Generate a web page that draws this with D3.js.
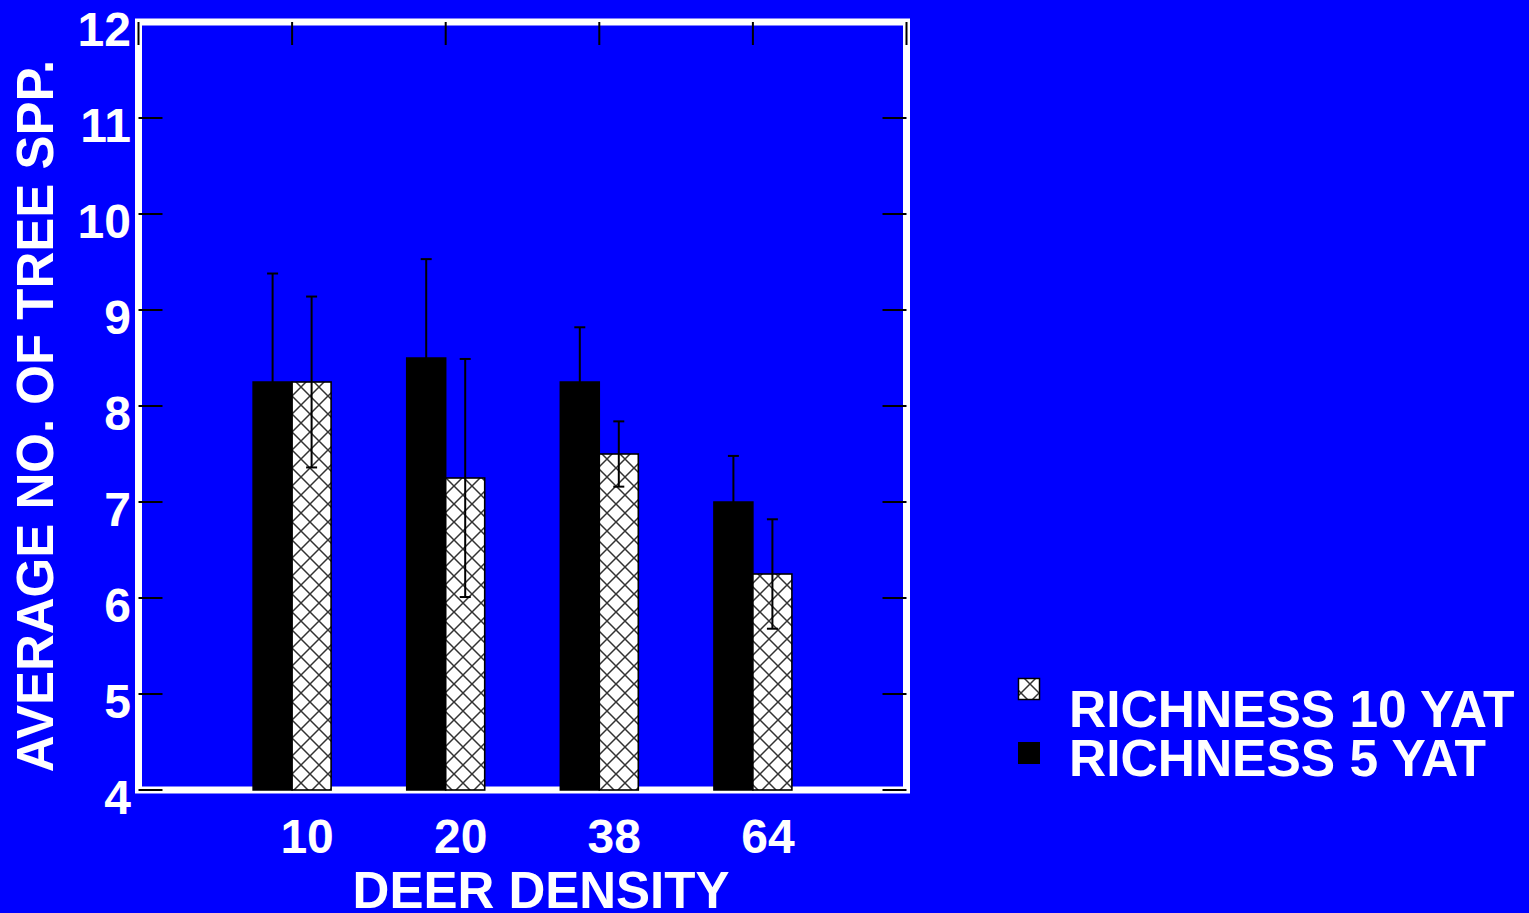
<!DOCTYPE html>
<html>
<head>
<meta charset="utf-8">
<script src="https://cdn.jsdelivr.net/npm/d3@7"></script>
<style>
  html, body { margin: 0; padding: 0; background: #0000ff; }
  svg { display: block; }
  text { font-family: "Liberation Sans", Arial, Helvetica, sans-serif; font-weight: bold; fill: #ffffff; }
</style>
</head>
<body>
<svg id="chart" width="1529" height="913"></svg>
<script>
// Deer density treatments
const categories = ["10", "20", "38", "64"];
// Richness 5 years after treatment (solid bars) with upper error
const rich5 = [8.25, 8.5, 8.25, 7.0];
const rich5Err = [1.13, 1.03, 0.57, 0.48];
// Richness 10 years after treatment (hatched bars) with +/- error
const rich10 = [8.25, 7.25, 7.5, 6.25];
const rich10Err = [0.89, 1.24, 0.34, 0.57];
// Y axis tick values
const yTicks = [4, 5, 6, 7, 8, 9, 10, 11, 12];
const legendLabels = ["RICHNESS 10 YAT", "RICHNESS 5 YAT"];

const svg = d3.select("#chart");
svg.append("rect").attr("width", 1529).attr("height", 913).attr("fill", "#0000ff");

const plotL = 138.5, plotR = 906.5, plotT = 22, plotB = 790;
const x = d3.scalePoint().domain(categories).range([plotL, plotR]).padding(1);
const y = d3.scaleLinear().domain([4, 12]).range([plotB, plotT]);
const barW = 39;

// Crosshatch fill
const defs = svg.append("defs");
const pat = defs.append("pattern")
  .attr("id", "hatch").attr("patternUnits", "userSpaceOnUse")
  .attr("width", 18).attr("height", 18).attr("x", 292).attr("y", 0);
pat.append("rect").attr("width", 18).attr("height", 18).attr("fill", "#ffffff");
pat.append("path").attr("d", "M0,0L18,18M18,0L0,18")
  .attr("stroke", "#333333").attr("stroke-width", 1.5);

// White plot frame
svg.append("rect")
  .attr("x", plotL).attr("y", plotT)
  .attr("width", plotR - plotL).attr("height", plotB - plotT)
  .attr("fill", "none").attr("stroke", "#ffffff").attr("stroke-width", 7);

// Bars
const g = svg.append("g");
g.selectAll("rect.r5").data(categories).join("rect")
  .attr("class", "r5")
  .attr("x", d => x(d) - barW)
  .attr("y", (d, i) => y(rich5[i]))
  .attr("width", barW)
  .attr("height", (d, i) => y(4) - y(rich5[i]))
  .attr("fill", "#000000").attr("stroke", "#000000").attr("stroke-width", 1.5);

g.selectAll("rect.r10").data(categories).join("rect")
  .attr("class", "r10")
  .attr("x", d => x(d))
  .attr("y", (d, i) => y(rich10[i]))
  .attr("width", barW)
  .attr("height", (d, i) => y(4) - y(rich10[i]))
  .attr("fill", "url(#hatch)").attr("stroke", "#000000").attr("stroke-width", 1.6);

// Error bars
const cap = 5.5;
const eb = svg.append("g").attr("stroke", "#000000").attr("stroke-width", 2);
categories.forEach((c, i) => {
  const cx5 = x(c) - barW / 2;
  const top5 = y(rich5[i] + rich5Err[i]);
  eb.append("line").attr("x1", cx5).attr("x2", cx5).attr("y1", y(rich5[i])).attr("y2", top5);
  eb.append("line").attr("x1", cx5 - cap).attr("x2", cx5 + cap).attr("y1", top5).attr("y2", top5);

  const cx10 = x(c) + barW / 2;
  const hi = y(rich10[i] + rich10Err[i]);
  const lo = y(rich10[i] - rich10Err[i]);
  eb.append("line").attr("x1", cx10).attr("x2", cx10).attr("y1", lo).attr("y2", hi);
  eb.append("line").attr("x1", cx10 - cap).attr("x2", cx10 + cap).attr("y1", hi).attr("y2", hi);
  eb.append("line").attr("x1", cx10 - cap).attr("x2", cx10 + cap).attr("y1", lo).attr("y2", lo);
});

// Black tick marks on the frame
const ticks = svg.append("g").attr("stroke", "#000000").attr("stroke-width", 2);
yTicks.filter(v => v < 12).forEach(v => {
  ticks.append("line").attr("x1", plotL).attr("x2", plotL + 24).attr("y1", y(v)).attr("y2", y(v));
  ticks.append("line").attr("x1", plotR - 24).attr("x2", plotR).attr("y1", y(v)).attr("y2", y(v));
});
[plotL, ...categories.map(c => x(c)), plotR].forEach(px => {
  ticks.append("line").attr("x1", px).attr("x2", px).attr("y1", plotT).attr("y2", plotT + 23);
});

// Y tick labels
svg.append("g").selectAll("text").data(yTicks).join("text")
  .attr("x", 131).attr("y", d => y(d) + 23.5)
  .attr("text-anchor", "end").attr("font-size", 48)
  .text(d => d);

// X tick labels
svg.append("g").selectAll("text").data(categories).join("text")
  .attr("x", d => x(d) + 15).attr("y", 853)
  .attr("text-anchor", "middle").attr("font-size", 48)
  .text(d => d);

// Axis titles
svg.append("text").attr("x", 541).attr("y", 908)
  .attr("text-anchor", "middle").attr("font-size", 51)
  .text("DEER DENSITY");
svg.append("text")
  .attr("transform", "translate(53,416) rotate(-90)")
  .attr("text-anchor", "middle").attr("font-size", 51)
  .text("AVERAGE NO. OF TREE SPP.");

// Legend
const legend = svg.append("g");
legend.append("rect").attr("x", 1018.5).attr("y", 678.5).attr("width", 21).attr("height", 21)
  .attr("fill", "url(#hatch)").attr("stroke", "#000000").attr("stroke-width", 1.5);
legend.append("rect").attr("x", 1018).attr("y", 742).attr("width", 22).attr("height", 22)
  .attr("fill", "#000000");
legend.selectAll("text").data(legendLabels).join("text")
  .attr("x", 1069).attr("y", (d, i) => 727 + i * 49)
  .attr("font-size", 51.5)
  .text(d => d);
</script>
</body>
</html>
